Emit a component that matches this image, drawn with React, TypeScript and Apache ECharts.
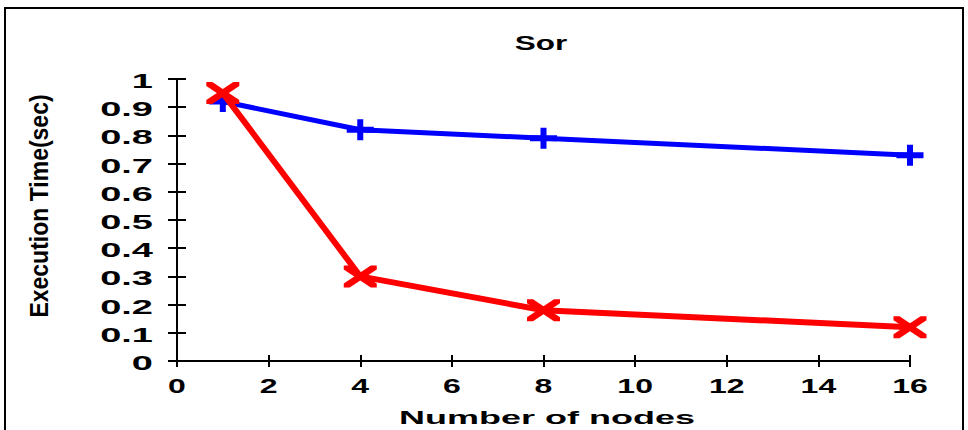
import React, { useEffect, useRef } from "react";
import * as echarts from "echarts";

const nodes = [1, 4, 8, 16];
const blueTimes = [0.92, 0.82, 0.79, 0.73];
const redTimes = [0.95, 0.3, 0.18, 0.12];
const xTickValues = [0, 2, 4, 6, 8, 10, 12, 14, 16];
const xTickLabels = ["0", "2", "4", "6", "8", "10", "12", "14", "16"];
const yTickValues = [0, 0.1, 0.2, 0.3, 0.4, 0.5, 0.6, 0.7, 0.8, 0.9, 1];
const yTickLabels = ["0", "0.1", "0.2", "0.3", "0.4", "0.5", "0.6", "0.7", "0.8", "0.9", "1"];
const titleText = "Sor";
const xName = "Number of nodes";
const yName = "Execution Time(sec)";

const FONT = "Liberation Sans, Arial, sans-serif";
const PLUS = "path://M10.5,0 L16.5,0 L16.5,7.5 L27,7.5 L27,13.5 L16.5,13.5 L16.5,21 L10.5,21 L10.5,13.5 L0,13.5 L0,7.5 L10.5,7.5 Z";
const CROSS =
  "path://M0,0 L6,0 L33,18 L33,22 L27,22 L0,4 Z M33,0 L33,4 L6,22 L0,22 L0,18 L27,0 Z";

export default function App() {
  const ref = useRef<HTMLDivElement>(null);
  useEffect(() => {
    if (!ref.current) return;
    const chart = echarts.init(ref.current, null, { renderer: "svg" });
    const axisLine = { show: true, lineStyle: { color: "#000", width: 2 } };
    const xAxisBase = {
      type: "value",
      min: 0,
      max: 16,
      interval: 2,
      axisLine,
      axisTick: { show: true, inside: true, length: 6, lineStyle: { color: "#000", width: 2 } },
      axisLabel: { show: false },
      splitLine: { show: false },
    };
    const yAxisBase = {
      type: "value",
      min: 0,
      max: 1,
      interval: 0.1,
      axisLine,
      axisTick: { show: true, inside: true, length: 9, lineStyle: { color: "#000", width: 2 } },
      axisLabel: { show: false },
      splitLine: { show: false },
    };
    chart.setOption({
      animation: false,
      backgroundColor: "#fff",
      grid: { left: 177, right: 58, top: 79, bottom: 69 },
      xAxis: [
        { ...xAxisBase, position: "bottom" },
        { ...xAxisBase, position: "top" },
      ],
      yAxis: [
        { ...yAxisBase, position: "left" },
        { ...yAxisBase, position: "right" },
      ],
      series: [
        {
          type: "line",
          data: nodes.map((n, i) => [n, blueTimes[i]]),
          symbol: PLUS,
          symbolSize: [27, 21],
          lineStyle: { color: "#0000ff", width: 5 },
          itemStyle: { color: "#0000ff", borderWidth: 0 },
          z: 2,
        },
        {
          type: "line",
          data: nodes.map((n, i) => [n, redTimes[i]]),
          symbol: CROSS,
          symbolSize: [33, 22],
          lineStyle: { color: "#ff0000", width: 6 },
          itemStyle: { color: "#ff0000", borderWidth: 0 },
          z: 3,
        },
      ],
    });

    const els: any[] = [];
    els.push({
      type: "rect",
      shape: { x: 5, y: 8, width: 958, height: 500 },
      style: { fill: "none", stroke: "#000", lineWidth: 2 },
      silent: true,
    });
    yTickValues.forEach((v, i) => {
      const py = chart.convertToPixel({ yAxisIndex: 0 }, v) as number;
      els.push({
        type: "text",
        x: 153,
        y: py + 2,
        scaleX: 1.9,
        style: {
          text: yTickLabels[i],
          fontSize: 20,
          fontWeight: "bold",
          fontFamily: FONT,
          fill: "#000",
          align: "right",
          verticalAlign: "middle",
        },
      });
    });
    xTickValues.forEach((v, i) => {
      const px = chart.convertToPixel({ xAxisIndex: 0 }, v) as number;
      els.push({
        type: "text",
        x: px,
        y: 386,
        scaleX: 1.6,
        style: {
          text: xTickLabels[i],
          fontSize: 20,
          fontWeight: "bold",
          fontFamily: FONT,
          fill: "#000",
          align: "center",
          verticalAlign: "middle",
        },
      });
    });
    els.push({
      type: "text",
      x: 541,
      y: 43,
      scaleX: 1.5,
      style: { text: titleText, fontSize: 21, fontWeight: "bold", fontFamily: FONT, fill: "#000", align: "center", verticalAlign: "middle" },
    });
    els.push({
      type: "text",
      x: 547,
      y: 418,
      scaleX: 2.0,
      style: { text: xName, fontSize: 18, fontWeight: "bold", fontFamily: FONT, fill: "#000", align: "center", verticalAlign: "middle" },
    });
    els.push({
      type: "text",
      x: 39,
      y: 206,
      rotation: Math.PI / 2,
      scaleY: 1.12,
      style: { text: yName, fontSize: 23, fontWeight: "bold", fontFamily: FONT, fill: "#000", align: "center", verticalAlign: "middle" },
    });
    chart.setOption({ graphic: { elements: els } });

    return () => chart.dispose();
  }, []);
  return (
    <div
      ref={ref}
      style={{ position: "fixed", left: 0, top: 0, width: 968, height: 430, background: "#fff" }}
    />
  );
}
